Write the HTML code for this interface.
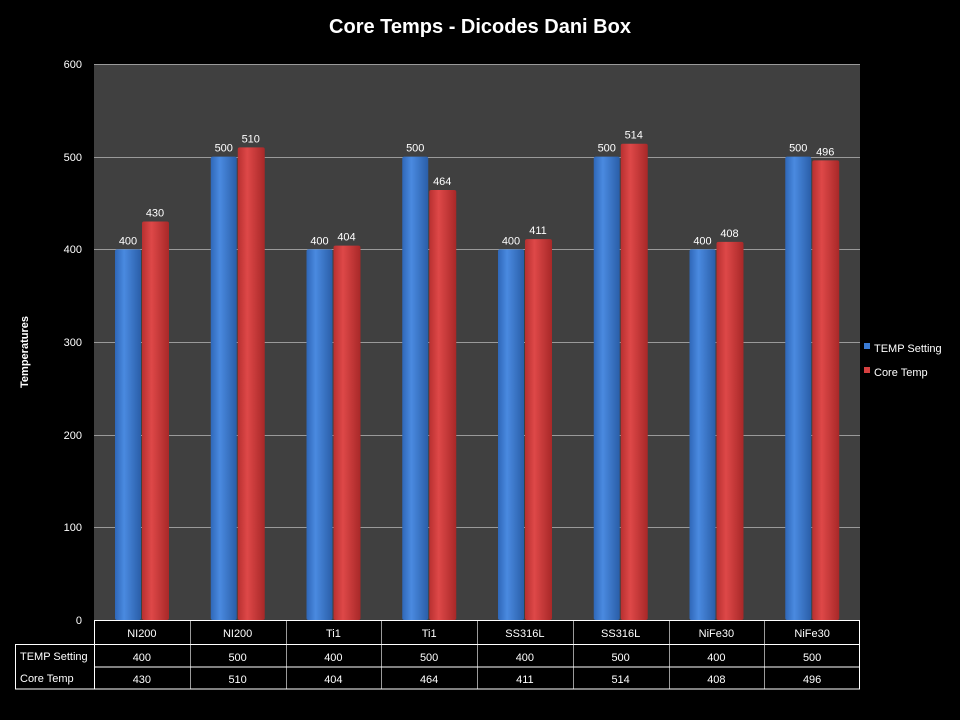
<!DOCTYPE html><html><head><style>html,body{margin:0;background:#000;overflow:hidden;width:960px;height:720px}svg{display:block}svg text{font-family:"Liberation Sans",sans-serif;fill:#fff}</style></head><body>
<svg width="960" height="720" xmlns="http://www.w3.org/2000/svg">
<defs>
<linearGradient id="b" x1="0" x2="1"><stop offset="0" stop-color="#2f67b8"/><stop offset="0.35" stop-color="#4a8ae0"/><stop offset="1" stop-color="#2a5ea8"/></linearGradient>
<linearGradient id="r" x1="0" x2="1"><stop offset="0" stop-color="#b83030"/><stop offset="0.35" stop-color="#de4848"/><stop offset="1" stop-color="#a82828"/></linearGradient>
</defs>
<rect width="960" height="720" fill="#000"/>
<text x="480" y="33" font-size="20" font-weight="bold" text-anchor="middle">Core Temps - Dicodes Dani Box</text>
<rect x="94" y="64" width="766" height="556" fill="#404040"/>
<g stroke="#9a9a9a" stroke-width="1">
<line x1="94" x2="860" y1="64.5" y2="64.5"/><line x1="94" x2="860" y1="157.5" y2="157.5"/><line x1="94" x2="860" y1="249.5" y2="249.5"/><line x1="94" x2="860" y1="342.5" y2="342.5"/><line x1="94" x2="860" y1="435.5" y2="435.5"/><line x1="94" x2="860" y1="527.5" y2="527.5"/>
</g>
<g font-size="11" text-anchor="end">
<text x="82" y="68">600</text><text x="82" y="161">500</text><text x="82" y="253">400</text><text x="82" y="346">300</text><text x="82" y="439">200</text><text x="82" y="531">100</text><text x="82" y="624">0</text>
</g>
<text transform="translate(28,352) rotate(-90)" font-size="11" font-weight="bold" text-anchor="middle">Temperatures</text>
<g id="bars" font-size="11" text-anchor="middle"></g>
<g stroke="#fff" stroke-width="1" fill="none">
<line x1="94" x2="860" y1="620.5" y2="620.5"/>
<rect x="15.5" y="644.5" width="844" height="44.5"/>
<line x1="94" x2="860" y1="667" y2="667" />
<line x1="94.5" x2="94.5" y1="620" y2="689"/>
<line x1="859.5" x2="859.5" y1="620" y2="689"/>
</g>
<g id="tbl" font-size="11" text-anchor="middle"></g>
<text x="20" y="660" font-size="11">TEMP Setting</text>
<text x="20" y="682" font-size="11">Core Temp</text>
<rect x="864" y="343" width="6" height="6" fill="#3a7bd5"/><text x="874" y="352" font-size="11">TEMP Setting</text>
<rect x="864" y="367" width="6" height="6" fill="#d64040"/><text x="874" y="376" font-size="11">Core Temp</text>
</svg>
<script>
var names=["NI200","NI200","Ti1","Ti1","SS316L","SS316L","NiFe30","NiFe30"],a=[400,500,400,500,400,500,400,500],c=[430,510,404,464,411,514,408,496];
var ns="http://www.w3.org/2000/svg",g=document.getElementById("bars"),t=document.getElementById("tbl"),tb=document.querySelector("svg > g[stroke]");
function el(p,n,at,tx){var e=document.createElementNS(ns,n);for(var k in at)e.setAttribute(k,at[k]);if(tx)e.textContent=tx;p.appendChild(e);}
var w=95.75,s=556/600;
for(var i=0;i<8;i++){var x0=94+i*w;
var yb=620-a[i]*s,yr=620-c[i]*s;
el(g,"rect",{x:x0+21,y:yb,width:26,height:620-yb,fill:"url(#b)",rx:2});
el(g,"rect",{x:x0+48,y:yr,width:27,height:620-yr,fill:"url(#r)",rx:2});
el(g,"text",{x:x0+34,y:yb-5},a[i]);el(g,"text",{x:x0+61,y:yr-5},c[i]);
el(t,"text",{x:x0+w/2,y:637},names[i]);el(t,"text",{x:x0+w/2,y:661},a[i]);el(t,"text",{x:x0+w/2,y:683},c[i]);
if(i>0)el(tb,"line",{x1:Math.round(x0)+.5,x2:Math.round(x0)+.5,y1:620,y2:689});}
</script>
</body></html>
